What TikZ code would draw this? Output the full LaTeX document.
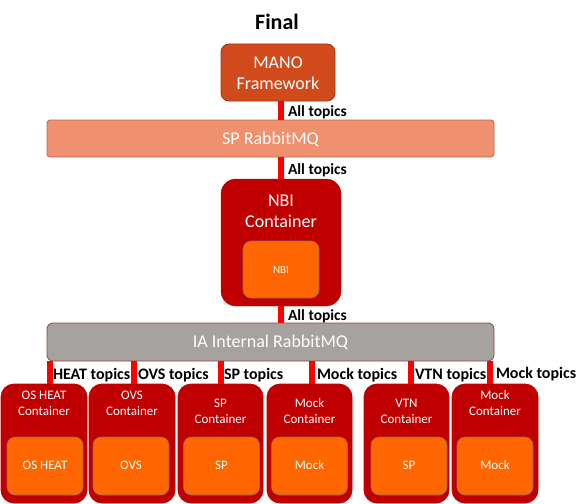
\documentclass[tikz,border=0pt]{standalone}
\usepackage{fontspec}
\setmainfont{Carlito}
\definecolor{manofill}{HTML}{D14A1B}
\definecolor{manoline}{HTML}{9E3612}
\definecolor{spfill}{HTML}{EF906E}
\definecolor{spline}{HTML}{B86A50}
\definecolor{iafill}{HTML}{A6A2A0}
\definecolor{ialine}{HTML}{8A4A3C}
\definecolor{contred}{HTML}{C00000}
\definecolor{innerfill}{HTML}{FF6600}
\definecolor{innerline}{HTML}{8A6A60}
\definecolor{linkred}{HTML}{FF0000}
\begin{document}
\begin{tikzpicture}[x=1pt,y=-1pt,
  every node/.style={inner sep=0pt, outer sep=0pt},
  bigtxt/.style={font=\fontsize{18}{21}\selectfont, text=white, align=center},
  smalltxt/.style={font=\fontsize{13}{16}\selectfont, text=white, align=center},
  toplbl/.style={font=\fontsize{15.5}{18}\selectfont\bfseries, anchor=west},
  link/.style={draw=linkred, line width=6pt},
  contbox/.style={draw=contred, fill=contred, line width=0.8pt, rounded corners=13pt, minimum height=119pt, minimum width=#1},
  innerbox/.style={draw=innerline, fill=innerfill, line width=0.6pt, rounded corners=8pt, minimum width=76pt, minimum height=58pt},
]
\useasboundingbox (0,0) rectangle (588,503);
\clip (0,0) rectangle (588,503);

\node[font=\fontsize{22}{26}\selectfont\bfseries] (title) at (277,22) {Final};

% MANO
\node[draw=manoline, fill=manofill, line width=0.8pt, rounded corners=8pt,
  minimum width=114pt, minimum height=57pt] (mano) at (278,72.5) {};
\node[bigtxt] (manotxt) at (278,73) {MANO\\Framework};

% SP RabbitMQ
\node[draw=spline, fill=spfill, line width=0.8pt, rounded corners=3pt,
  minimum width=447pt, minimum height=37pt] (sp) at (270.5,138.5) {};
\node[bigtxt] (sptxt) at (270.5,139) {SP RabbitMQ};

% NBI container
\node[draw=contred, fill=contred, rounded corners=15pt,
  minimum width=120pt, minimum height=127pt] (nbi) at (281,242.5) {};
\node[bigtxt] (nbitxt) at (281,211) {NBI\\Container};
\node[draw=innerline, fill=innerfill, line width=0.6pt, rounded corners=8pt,
  minimum width=76pt, minimum height=57pt] (nbiin) at (281,269.5) {};
\node[font=\fontsize{11}{13}\selectfont, text=white] (nbiintxt) at (281,270) {NBI};

% IA Internal RabbitMQ
\node[draw=ialine, fill=iafill, line width=0.8pt, rounded corners=6pt,
  minimum width=447pt, minimum height=38pt] (ia) at (270.5,342) {};
\node[bigtxt] (iatxt) at (270.5,342) {IA Internal RabbitMQ};

% top links
\draw[link] (mano.south -| nbi) -- (sp.north -| nbi);
\draw[link] (sp.south -| nbi) -- (nbi.north);
\draw[link] (nbi.south) -- (ia.north -| nbi);
\node[toplbl] (l1) at (288,112) {All topics};
\node[toplbl] (l2) at (288,170) {All topics};
\node[toplbl] (l3) at (288,316) {All topics};

% bottom containers
\node[contbox=86pt] (c1) at (44,443.5) {};
\node[contbox=86pt] (c2) at (132,443.5) {};
\node[contbox=85pt] (c3) at (220.5,443.5) {};
\node[contbox=85pt] (c4) at (309.5,443.5) {};
\node[contbox=85pt] (c5) at (406.5,443.5) {};
\node[contbox=86pt] (c6) at (495,443.5) {};

\node[smalltxt] (t1) at (44,403) {OS HEAT\\Container};
\node[smalltxt] (t2) at (132,403) {OVS\\Container};
\node[smalltxt] (t3) at (220.5,411) {SP\\Container};
\node[smalltxt] (t4) at (309.5,411) {Mock\\Container};
\node[smalltxt] (t5) at (406.5,411) {VTN\\Container};
\node[smalltxt] (t6) at (495,403) {Mock\\Container};

\node[innerbox] (i1) at (45,466) {};
\node[innerbox] (i2) at (131,466) {};
\node[innerbox] (i3) at (221.5,466) {};
\node[innerbox] (i4) at (309.5,466) {};
\node[innerbox] (i5) at (409,466) {};
\node[innerbox] (i6) at (495,466) {};

\node[smalltxt] (it1) at (45,465) {OS HEAT};
\node[smalltxt] (it2) at (131,465) {OVS};
\node[smalltxt] (it3) at (221.5,465) {SP};
\node[smalltxt] (it4) at (309.5,465) {Mock};
\node[smalltxt] (it5) at (409,465) {SP};
\node[smalltxt] (it6) at (495,465) {Mock};

% bottom links
\draw[link] ([xshift=6pt]c1.north) -- ([xshift=6pt]c1.north |- ia.south);
\draw[link] ([xshift=2pt]c2.north) -- ([xshift=2pt]c2.north |- ia.south);
\draw[link] ([xshift=0.5pt]c3.north) -- ([xshift=0.5pt]c3.north |- ia.south);
\draw[link] ([xshift=2.5pt]c4.north) -- ([xshift=2.5pt]c4.north |- ia.south);
\draw[link] ([xshift=4.5pt]c5.north) -- ([xshift=4.5pt]c5.north |- ia.south);
\draw[link] ([xshift=-5pt]c6.north) -- ([xshift=-5pt]c6.north |- ia.south);

\node[toplbl, font=\fontsize{16}{18}\selectfont\bfseries] (b1) at (53,375) {HEAT topics};
\node[toplbl, font=\fontsize{16}{18}\selectfont\bfseries] (b2) at (138,375) {OVS topics};
\node[toplbl, font=\fontsize{16}{18}\selectfont\bfseries] (b3) at (224,375) {SP topics};
\node[toplbl, font=\fontsize{16}{18}\selectfont\bfseries] (b4) at (317,375) {Mock topics};
\node[toplbl, font=\fontsize{16}{18}\selectfont\bfseries] (b5) at (415,375) {VTN topics};
\node[toplbl, font=\fontsize{16}{18}\selectfont\bfseries] (b6) at (496,374) {Mock topics};
\end{tikzpicture}
\end{document}
